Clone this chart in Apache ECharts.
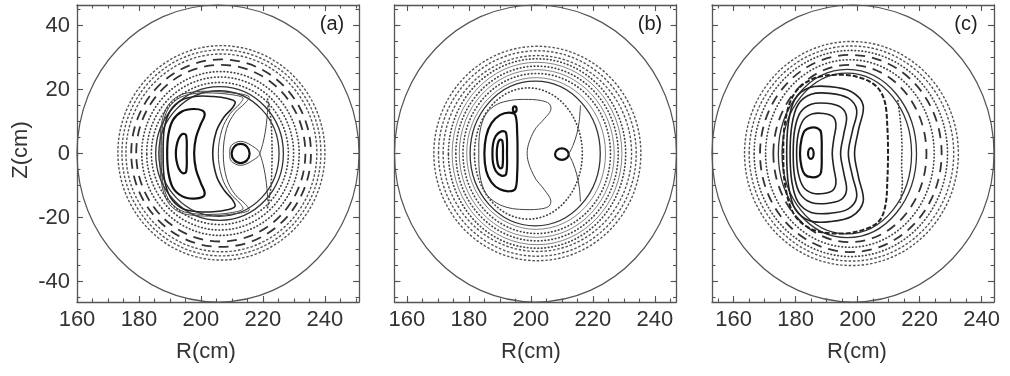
<!DOCTYPE html>
<html>
<head>
<meta charset="utf-8">
<script src="https://cdn.jsdelivr.net/npm/echarts@6/dist/echarts.min.js"></script>
<style>
html, body { margin: 0; padding: 0; background: #fff; }
#chart { width: 1010px; height: 376px; }
</style>
</head>
<body>
<div id="chart"></div>
<script>
// ---- axes ----
const R_RANGES = [[160, 251], [156, 247], [153, 244]];
const Z_RANGE = [-46.4, 46.4];
const R_LABELS = [160, 180, 200, 220, 240];
const R_TICKS = [155, 160, 165, 170, 175, 180, 185, 190, 195, 200, 205, 210, 215, 220, 225, 230, 235, 240, 245, 250];
const Z_LABELS = [-40, -20, 0, 20, 40];
const Z_TICKS = [-45, -40, -35, -30, -25, -20, -15, -10, -5, 0, 5, 10, 15, 20, 25, 30, 35, 40, 45];
const PANEL_NAMES = ['(a)', '(b)', '(c)'];

// ---- rings: [R centre, Z centre, R half-width, Z half-height] (cm) ----
// panel (a)
const A_WALL = [[205.5, 0, 45.5, 46.4]];
const A_CHAIN = [[206.6, 0.2, 30.8, 30.9], [206.6, 0.2, 32.1, 32.2], [206.6, 0.2, 33.4, 33.5]];
const A_DASH = [[206.5, 0.1, 29.0, 29.3], [206.4, 0.1, 27.3, 27.6]];
const A_DOT = [[206.3, 0, 25.4, 25.6], [206.2, 0, 23.7, 23.9], [206.1, 0, 22.1, 22.2]];
const A_FINE = [];
const A_SOLID = [[206.0, 0, 20.6, 20.9], [205.8, 0, 19.4, 19.6]];
const A_ISLAND = [[212.8, 0, 2.9, 3.0]];
// panel (b)
const B_WALL = [[201.5, 0, 45.5, 46.4]];
const B_CHAIN = [[202.1, 0, 30.4, 30.6], [202.1, 0, 31.9, 32.1], [202.1, 0, 33.4, 33.5]];
const B_DASH = [];
const B_DOT = [[202.0, 0, 28.6, 29.6], [202.0, 0, 26.2, 27.3], [201.9, 0, 23.8, 25.0], [199.2, 0, 17.4, 20.5]];
const B_FINE = [[202.0, 0, 27.4, 28.5], [201.9, 0, 25.0, 26.2], [201.7, 0, 22.4, 23.7]];
const B_SOLID = [[201.4, 0, 21.0, 22.6]];
const B_ISLAND = [[210.0, -0.2, 2.2, 1.8], [194.8, 13.8, 0.6, 0.9]];
// panel (c)
const C_WALL = [[198.5, 0, 45.5, 46.4]];
const C_CHAIN = [[198.0, 0, 33.0, 33.6], [198.0, 0, 34.5, 35.0]];
const C_DASH = [[197.8, 0, 29.3, 30.8], [197.5, 0, 24.7, 27.7]];
const C_DOT = [[197.8, 0, 31.2, 32.2], [197.5, 0, 27.2, 29.3]];
const C_FINE = [];
const C_SOLID = [[196.7, 0, 22.3, 26.3], [196.5, 0, 20.9, 25.1]];
const C_ISLAND = [[184.9, 0, 0.9, 1.7]];

// ---- traced surfaces: lists of [R, Z] (cm) ----
const A_THICK = [
  [[195.2, 5.7], [194.0, 6.1], [192.8, 4.6], [192.1, 2.2], [191.9, 0], [192.1, -2.2], [192.8, -4.6], [194.0, -6.1], [195.2, -5.8], [195.4, 0]],
  [[189.1, 0], [189.5, 6.0], [191.0, 10.5], [194.0, 13.2], [197.5, 13.9], [200.5, 13.4], [201.2, 12.0], [200.0, 9.3], [198.4, 5.0], [197.8, 0], [198.4, -5.0], [200.0, -9.3], [201.2, -12.2], [200.5, -13.6], [197.5, -14.1], [194.0, -13.4], [191.0, -10.8], [189.5, -6.0]]
];
const A_MEDIUM = [
  [[187.8, 0], [188.2, 8.0], [190.2, 13.5], [194.0, 16.8], [199.0, 17.9], [204.0, 17.8], [208.5, 17.2], [211.0, 16.2], [210.2, 14.3], [207.5, 11.5], [205.0, 7.0], [203.8, 0], [205.0, -7.0], [207.5, -11.5], [210.2, -14.5], [211.0, -16.5], [208.5, -17.6], [204.0, -18.2], [199.0, -18.2], [194.0, -17.2], [190.2, -13.8], [188.2, -8.0]]
];
const A_THIN = [
  [[187.2, 0], [187.6, 8.5], [189.6, 14.3], [193.5, 17.6], [198.5, 18.8], [204.0, 18.9], [209.0, 18.5], [213.5, 17.4], [212.5, 15.5], [209.5, 12.5], [206.8, 7.5], [205.6, 0], [206.8, -7.5], [209.5, -12.5], [212.5, -15.5], [213.5, -17.4], [209.0, -18.6], [204.0, -19.0], [198.5, -18.9], [193.5, -17.8], [189.6, -14.5], [187.6, -8.5]],
  [[186.8, 0], [187.2, 8.8], [189.2, 14.8], [193.2, 18.2], [198.5, 19.3], [204.0, 19.4], [209.5, 19.0], [215.5, 17.8], [214.3, 15.8], [211.0, 12.8], [208.3, 7.8], [207.2, 0], [208.3, -7.8], [211.0, -12.8], [214.3, -15.8], [215.5, -17.8], [209.5, -19.0], [204.0, -19.5], [198.5, -19.4], [193.2, -18.4], [189.2, -15.0], [187.2, -8.8]],
  [[219.0, 0], [216.3, 2.5], [212.8, 3.8], [209.8, 2.5], [209.3, 0], [209.8, -2.4], [212.8, -3.7], [216.3, -2.4]]
];
const A_LEGS = [
  [[219.0, 0], [220.0, 3.2], [220.8, 7.0], [221.3, 11.0], [221.6, 15.0]],
  [[219.0, 0], [220.0, -3.2], [220.8, -7.0], [221.3, -11.0], [221.6, -15.0]]
];
const A_DOTPATH = [
  [[221.5, 17.0], [222.5, 11.0], [222.9, 4.0], [222.9, -4.0], [222.5, -11.0], [221.5, -17.0]]
];
const A_SEP = [];

const B_THICK = [
  [[190.8, 4.0], [190.0, 4.3], [189.3, 3.0], [189.0, 0], [189.3, -3.2], [190.0, -4.6], [190.8, -4.3], [191.0, 0]],
  [[192.0, 6.5], [190.5, 6.9], [188.7, 5.5], [187.8, 3.0], [187.6, 0], [187.8, -3.0], [188.7, -5.5], [190.5, -6.9], [192.0, -6.5], [192.3, 0]],
  [[195.0, 12.0], [193.0, 12.8], [190.0, 12.0], [187.3, 9.5], [185.6, 5.5], [185.0, 0], [185.6, -5.5], [187.3, -9.0], [190.0, -11.2], [193.0, -11.8], [195.0, -11.0], [195.6, -6.0], [195.7, 0], [195.6, 6.0]]
];
const B_MEDIUM = [];
const B_THIN = [
  [[183.2, 0], [183.6, 7.0], [185.5, 12.3], [189.0, 15.3], [193.5, 16.6], [198.0, 16.9], [203.0, 16.6], [206.0, 15.5], [206.4, 13.5], [204.5, 11.0], [201.0, 7.0], [198.8, 0], [201.0, -7.0], [204.5, -11.5], [206.4, -14.5], [205.8, -16.5], [202.5, -17.4], [197.5, -17.5], [193.0, -17.0], [189.0, -15.5], [185.5, -12.5], [183.6, -7.0]]
];
const B_LEGS = [
  [[212.2, -0.2], [213.6, 2.5], [214.8, 6.0], [215.6, 10.0], [216.0, 15.0]],
  [[212.2, -0.2], [213.6, -3.0], [214.8, -6.5], [215.6, -10.5], [216.0, -15.0]]
];
const B_DOTPATH = [];
const B_SEP = [];

const C_THICK = [
  [[188.2, 6.5], [187.2, 7.8], [185.0, 8.1], [183.0, 7.2], [181.9, 4.5], [181.4, 0], [181.9, -4.2], [183.0, -6.6], [185.0, -7.4], [187.2, -7.1], [188.2, -5.8], [188.4, 0]]
];
const C_MEDIUM = [
  [[180.3, 0], [180.8, 6.0], [182.5, 10.5], [185.5, 12.4], [189.0, 12.5], [192.0, 11.5], [193.0, 9.0], [192.3, 4.5], [191.8, 0], [192.3, -4.5], [193.0, -9.0], [192.0, -11.5], [189.0, -12.5], [185.5, -12.4], [182.5, -10.5], [180.8, -6.0]],
  [[179.2, 0], [179.7, 7.5], [181.5, 12.8], [185.0, 15.4], [190.0, 15.7], [194.5, 14.5], [196.4, 11.5], [195.5, 6.0], [194.5, 0], [195.5, -6.0], [196.4, -11.5], [194.5, -14.5], [190.0, -15.6], [185.0, -15.3], [181.5, -12.7], [179.7, -7.5]],
  [[178.2, 0], [178.8, 9.0], [180.8, 15.3], [185.0, 18.5], [191.0, 18.8], [197.0, 17.3], [199.7, 13.5], [198.3, 7.0], [197.0, 0], [198.3, -7.0], [199.7, -13.5], [197.0, -17.3], [191.0, -18.7], [185.0, -18.4], [180.8, -15.2], [178.8, -9.0]],
  [[177.1, 0], [177.7, 10.0], [179.8, 17.0], [184.5, 20.6], [191.0, 20.9], [198.0, 19.3], [201.8, 15.0], [200.3, 7.5], [199.0, 0], [200.3, -7.5], [201.8, -15.0], [198.0, -19.7], [191.0, -21.3], [184.5, -21.0], [179.8, -17.3], [177.7, -10.0]]
];
const C_THIN = [];
const C_LEGS = [];
const C_DOTPATH = [
  [[213.0, 16.5], [213.8, 10.0], [214.3, 3.0], [214.2, -4.0], [214.4, -10.0], [213.6, -16.0]]
];
const C_SEP = [
  [[176.0, 0], [176.8, 11.0], [179.8, 19.0], [186.0, 23.5], [195.0, 24.6], [202.0, 23.3], [206.5, 20.5], [208.8, 16.0], [209.6, 8.0], [209.8, 0], [209.6, -8.0], [209.0, -16.0], [207.0, -21.0], [202.0, -23.8], [195.0, -25.0], [186.0, -24.0], [179.8, -19.5], [176.8, -11.0]]
];

// ---- line styles ----
const ST = {
  wall:   { color: '#555', width: 1.2 },
  chain:  { color: '#555', width: 1.4, dash: [2.5, 1.8] },
  dash:   { color: '#333', width: 1.8, dash: [10, 7] },
  dot:    { color: '#444', width: 1.7, dash: [0.5, 3], cap: 'round' },
  fine:   { color: '#777', width: 0.9 },
  solid:  { color: '#333', width: 1.3 },
  thick:  { color: '#111', width: 2.2 },
  medium: { color: '#222', width: 1.6 },
  thin:   { color: '#444', width: 1.0 },
  sep:    { color: '#222', width: 2.0, dash: [5, 2] }
};

const PANELS = [
  { wall: A_WALL, chain: A_CHAIN, dash: A_DASH, dot: A_DOT, fine: A_FINE, solid: A_SOLID, island: A_ISLAND,
    thick: A_THICK, medium: A_MEDIUM, thin: A_THIN, legs: A_LEGS, dotpath: A_DOTPATH, sep: A_SEP },
  { wall: B_WALL, chain: B_CHAIN, dash: B_DASH, dot: B_DOT, fine: B_FINE, solid: B_SOLID, island: B_ISLAND,
    thick: B_THICK, medium: B_MEDIUM, thin: B_THIN, legs: B_LEGS, dotpath: B_DOTPATH, sep: B_SEP },
  { wall: C_WALL, chain: C_CHAIN, dash: C_DASH, dot: C_DOT, fine: C_FINE, solid: C_SOLID, island: C_ISLAND,
    thick: C_THICK, medium: C_MEDIUM, thin: C_THIN, legs: C_LEGS, dotpath: C_DOTPATH, sep: C_SEP }
];

const GRID_LEFT = [77, 394.5, 712];
const GRID_TOP = 5, GRID_W = 282, GRID_H = 297;
const FONT = 'Liberation Sans, Arial, Helvetica, sans-serif';

const grids = GRID_LEFT.map(l => ({ left: l, top: GRID_TOP, width: GRID_W, height: GRID_H, outerBoundsMode: 'none' }));

function inRange(vals, r) { return vals.filter(v => v >= r[0] && v <= r[1]); }

function axis(g, pos, range, major, ticks, isMajor, labels) {
  return {
    type: 'value', gridIndex: g, position: pos, min: range[0], max: range[1],
    axisLine: { show: isMajor, onZero: false, lineStyle: { color: '#555', width: 1.3 } },
    axisTick: { show: true, inside: true, length: isMajor ? 6 : 3.5,
      customValues: isMajor ? inRange(major, range) : inRange(ticks, range),
      lineStyle: { color: '#555', width: 1.1 } },
    axisLabel: { show: labels, customValues: inRange(major, range), margin: 7,
      fontSize: 22, color: '#333', fontFamily: FONT },
    splitLine: { show: false }, minorTick: { show: false }
  };
}

const xAxes = [], yAxes = [];
for (let g = 0; g < 3; g++) {
  const rr = R_RANGES[g];
  xAxes.push(axis(g, 'bottom', rr, R_LABELS, R_TICKS, true, true));
  xAxes.push(axis(g, 'bottom', rr, R_LABELS, R_TICKS, false, false));
  xAxes.push(axis(g, 'top', rr, R_LABELS, R_TICKS, true, false));
  xAxes.push(axis(g, 'top', rr, R_LABELS, R_TICKS, false, false));
  yAxes.push(axis(g, 'left', Z_RANGE, Z_LABELS, Z_TICKS, true, g === 0));
  yAxes.push(axis(g, 'left', Z_RANGE, Z_LABELS, Z_TICKS, false, false));
  yAxes.push(axis(g, 'right', Z_RANGE, Z_LABELS, Z_TICKS, true, false));
  yAxes.push(axis(g, 'right', Z_RANGE, Z_LABELS, Z_TICKS, false, false));
}

function strokeStyle(st) {
  return { fill: 'none', stroke: st.color, lineWidth: st.width,
    lineDash: st.dash || null, lineCap: st.cap || 'butt', lineJoin: 'round' };
}

// concentric surfaces drawn as ellipses through the axis scales
function ringSeries(g, rings, st) {
  return {
    type: 'custom', coordinateSystem: 'cartesian2d', xAxisIndex: g * 4, yAxisIndex: g * 4,
    silent: true, animation: false, clip: false,
    data: rings, encode: { x: 0, y: 1 },
    renderItem: (params, api) => {
      const c = api.coord([api.value(0), api.value(1)]);
      const s = api.size([api.value(2), api.value(3)], [api.value(0), api.value(1)]);
      return { type: 'ellipse', shape: { cx: c[0], cy: c[1], rx: s[0], ry: s[1] }, style: strokeStyle(st) };
    }
  };
}

// traced surfaces (closed) or separatrix legs (open)
function traceSeries(g, shapes, st, closed) {
  return {
    type: 'custom', coordinateSystem: 'cartesian2d', xAxisIndex: g * 4, yAxisIndex: g * 4,
    silent: true, animation: false, clip: false,
    data: shapes.map((pts, i) => [pts[0][0], pts[0][1], i]), encode: { x: 0, y: 1 },
    renderItem: (params, api) => {
      const pts = shapes[api.value(2)].map(p => api.coord(p));
      return { type: closed ? 'polygon' : 'polyline', shape: { points: pts, smooth: 0.35 }, style: strokeStyle(st) };
    }
  };
}

const series = [];
PANELS.forEach((p, g) => {
  series.push(ringSeries(g, p.wall, ST.wall));
  series.push(ringSeries(g, p.chain, ST.chain));
  series.push(ringSeries(g, p.dash, ST.dash));
  series.push(ringSeries(g, p.dot, ST.dot));
  series.push(ringSeries(g, p.fine, ST.fine));
  series.push(ringSeries(g, p.solid, ST.solid));
  series.push(ringSeries(g, p.island, ST.thick));
  series.push(traceSeries(g, p.sep, ST.sep, true));
  series.push(traceSeries(g, p.thin, ST.thin, true));
  series.push(traceSeries(g, p.medium, ST.medium, true));
  series.push(traceSeries(g, p.thick, ST.thick, true));
  series.push(traceSeries(g, p.legs, ST.thin, false));
  series.push(traceSeries(g, p.dotpath, ST.dot, false));
});

const NAME_X = [206, 531, 857];
const TAG_X = [332, 650, 966];
const graphic = [];
for (let g = 0; g < 3; g++) {
  graphic.push({ type: 'text', x: NAME_X[g], y: 352, silent: true,
    style: { text: 'R(cm)', font: '22px ' + FONT, fill: '#333', align: 'center', verticalAlign: 'middle' } });
  graphic.push({ type: 'text', x: TAG_X[g], y: 24, silent: true,
    style: { text: PANEL_NAMES[g], font: '20px ' + FONT, fill: '#222', align: 'center', verticalAlign: 'middle' } });
}
graphic.push({ type: 'text', x: 21, y: 150, rotation: Math.PI / 2, silent: true,
  style: { text: 'Z(cm)', font: '22px ' + FONT, fill: '#333', align: 'center', verticalAlign: 'middle' } });

const chart = echarts.init(document.getElementById('chart'), null, { renderer: 'canvas' });
chart.setOption({
  backgroundColor: '#fff',
  animation: false,
  grid: grids,
  xAxis: xAxes,
  yAxis: yAxes,
  graphic: graphic,
  series: series
});
</script>
</body>
</html>
